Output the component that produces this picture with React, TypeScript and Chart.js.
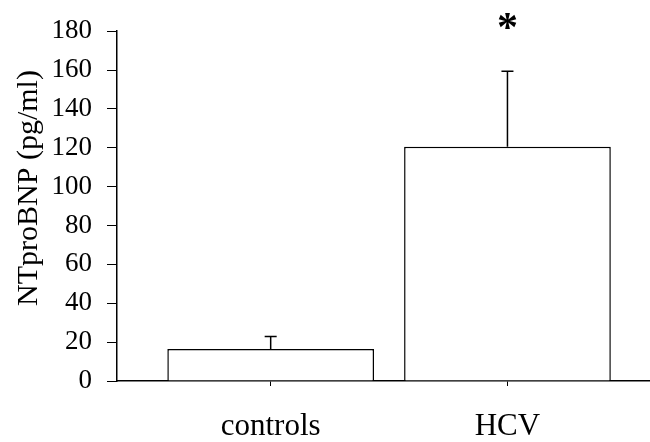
import React, { useEffect, useRef } from "react";
import { Chart, registerables } from "chart.js";

Chart.register(...registerables);

const categories = ["controls", "HCV"];
const meanValues = [16.5, 120.5];
const errorUpper = [22.9, 159.4];
const significance = ["", "*"];
const yTicks = [0, 20, 40, 60, 80, 100, 120, 140, 160, 180];
const yTitle = "NTproBNP (pg/ml)";

const SERIF = "'Liberation Serif', 'Times New Roman', serif";

const extrasPlugin = {
  id: "extras",
  afterDatasetsDraw(chart: any) {
    const ctx = chart.ctx;
    const meta = chart.getDatasetMeta(0);
    const yScale = chart.scales.y;
    ctx.save();
    ctx.strokeStyle = "#000";
    ctx.lineWidth = 1.5;
    meta.data.forEach((el: any, i: number) => {
      const yTop = yScale.getPixelForValue(errorUpper[i]);
      ctx.beginPath();
      ctx.moveTo(el.x, el.y);
      ctx.lineTo(el.x, yTop);
      ctx.moveTo(el.x - 6, yTop);
      ctx.lineTo(el.x + 6, yTop);
      ctx.stroke();
      if (significance[i]) {
        ctx.fillStyle = "#000";
        ctx.font = `bold 42px ${SERIF}`;
        ctx.textAlign = "center";
        ctx.textBaseline = "alphabetic";
        ctx.fillText(significance[i], el.x, yTop - 30);
      }
    });
    ctx.restore();
  },
  afterDraw(chart: any) {
    const ctx = chart.ctx;
    ctx.save();
    ctx.translate(29, 188);
    ctx.rotate(-Math.PI / 2);
    ctx.fillStyle = "#000";
    ctx.font = `30px ${SERIF}`;
    ctx.textAlign = "center";
    ctx.textBaseline = "middle";
    ctx.fillText(yTitle, 0, 0);
    ctx.restore();
  },
};

export default function App() {
  const canvasRef = useRef<HTMLCanvasElement | null>(null);

  useEffect(() => {
    document.body.style.margin = "0";
    const canvas = canvasRef.current;
    if (!canvas) return;
    const chart = new Chart(canvas, {
      type: "bar",
      data: {
        datasets: [
          {
            data: categories.map((c, i) => ({ x: i + 1, y: meanValues[i] })),
            backgroundColor: "#ffffff",
            borderColor: "#000000",
            borderWidth: 1.5,
            barPercentage: 0.873,
            categoryPercentage: 1,
          },
        ],
      },
      options: {
        animation: false,
        responsive: true,
        maintainAspectRatio: false,
        layout: { padding: { top: 21, right: 0, left: 0, bottom: 0 } },
        plugins: {
          legend: { display: false },
          tooltip: { enabled: false },
        },
        scales: {
          x: {
            type: "linear",
            min: 0.351,
            max: 2.602,
            offset: false,
            afterBuildTicks: (scale: any) => {
              scale.ticks = categories.map((c, i) => ({ value: i + 1 }));
            },
            afterFit: (scale: any) => {
              scale.height = 61;
            },
            grid: {
              offset: false,
              drawOnChartArea: false,
              drawTicks: true,
              tickLength: 5,
              color: "#000",
              lineWidth: 1,
            },
            border: { display: true, color: "#000", width: 1.5 },
            ticks: {
              autoSkip: false,
              maxRotation: 0,
              padding: 22,
              color: "#000",
              font: { family: SERIF, size: 31 },
              callback: (v: any) => categories[Math.round(Number(v)) - 1] ?? "",
            },
          },
          y: {
            min: 0,
            max: 180,
            afterBuildTicks: (scale: any) => {
              scale.ticks = yTicks.map((v) => ({ value: v }));
            },
            afterFit: (scale: any) => {
              scale.width = 117;
            },
            grid: {
              drawOnChartArea: false,
              drawTicks: true,
              tickLength: 10,
              color: "#000",
              lineWidth: 1,
            },
            border: { display: true, color: "#000", width: 1.5 },
            ticks: {
              padding: 15,
              color: "#000",
              font: { family: SERIF, size: 27 },
            },
          },
        },
      },
      plugins: [extrasPlugin],
    });
    return () => chart.destroy();
  }, []);

  return (
    <div style={{ width: 650, height: 442, position: "relative" }}>
      <canvas ref={canvasRef} />
    </div>
  );
}
